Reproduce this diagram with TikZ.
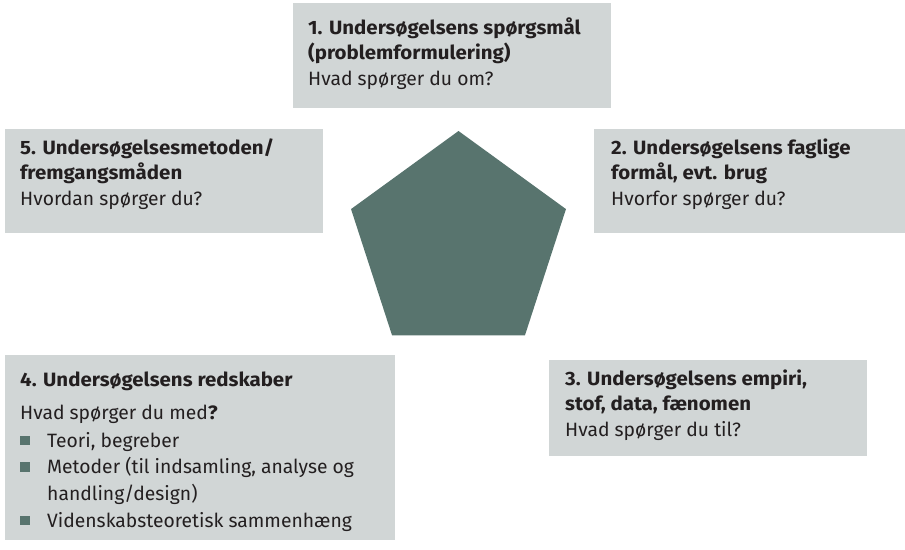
\documentclass[tikz,border=0pt]{standalone}
\usepackage{fontspec}
\setmainfont{Fira Sans}[BoldFeatures={FakeStretch=1.06}]
\usepackage{xcolor}
\definecolor{mygreen}{RGB}{88,116,110}
\definecolor{mygray}{RGB}{209,214,214}
\definecolor{mytext}{RGB}{35,31,32}
\usepackage{tikz}
\usetikzlibrary{calc}
\newcommand{\Punkt}{\makebox[27pt][l]{\textcolor{mygreen}{\rule[2pt]{9.5pt}{9.5pt}}}}

\begin{document}
\begin{tikzpicture}[x=1pt,y=-1pt]
	\tikzstyle{tekst}=[anchor=base west,inner sep=0pt,align=left,text=mytext,font=\fontsize{19.3}{25.5}\selectfont];
	\tikzstyle{punkter}=[tekst,font=\fontsize{19.3}{26.6}\selectfont];
	\newcommand{\radius}{113}
	%%
	\useasboundingbox (0,0) rectangle (905,549);
	%%
	\coordinate (O) at (458.5,244);
	\coordinate (P1) at ($(O)+(-90:\radius)$);
	\coordinate (P2) at ($(O)+(-18:\radius)$);
	\coordinate (P3) at ($(O)+(54:\radius)$);
	\coordinate (P4) at ($(O)+(126:\radius)$);
	\coordinate (P5) at ($(O)+(198:\radius)$);
	%%
	\path[fill=mygray] (293,3)   rectangle (611,108);
	\path[fill=mygray] (594,129) rectangle (912,233);
	\path[fill=mygray] (549,360) rectangle (867,456);
	\path[fill=mygray] (5,355)   rectangle (395,540);
	\path[fill=mygray] (5,129)   rectangle (323,233);
	%%
	\path[fill=mygreen] (P1) -- (P2) -- (P3) -- (P4) -- (P5) --cycle;
	%% base = baseline of the last line
	\node[tekst] (spm) at (308,85)
		{\textbf{1. Undersøgelsens spørgsmål}\\\textbf{(problemformulering)}\\Hvad spørger du om?};
	\node[tekst] (formaal) at (611,205)
		{\textbf{2. Undersøgelsens faglige}\\\textbf{formål, evt. brug}\\Hvorfor spørger du?};
	\node[tekst] (empiri) at (565,436)
		{\textbf{3. Undersøgelsens empiri,}\\\textbf{stof, data, fænomen}\\Hvad spørger du til?};
	\node[tekst] (redskaber) at (20,386) {\textbf{4. Undersøgelsens redskaber}};
	\node[tekst] (hvad) at (20,419) {Hvad spørger du med\textbf{?}};
	\node[punkter] (liste) at (20,527)
		{\Punkt Teori, begreber\\\Punkt Metoder (til indsamling, analyse og\\\hspace*{27pt}handling/design)\\\Punkt Videnskabsteoretisk sammenhæng};
	\node[tekst] (metode) at (20,205)
		{\textbf{5. Undersøgelsesmetoden/}\\\textbf{fremgangsmåden}\\Hvordan spørger du?};
\end{tikzpicture}
\end{document}
